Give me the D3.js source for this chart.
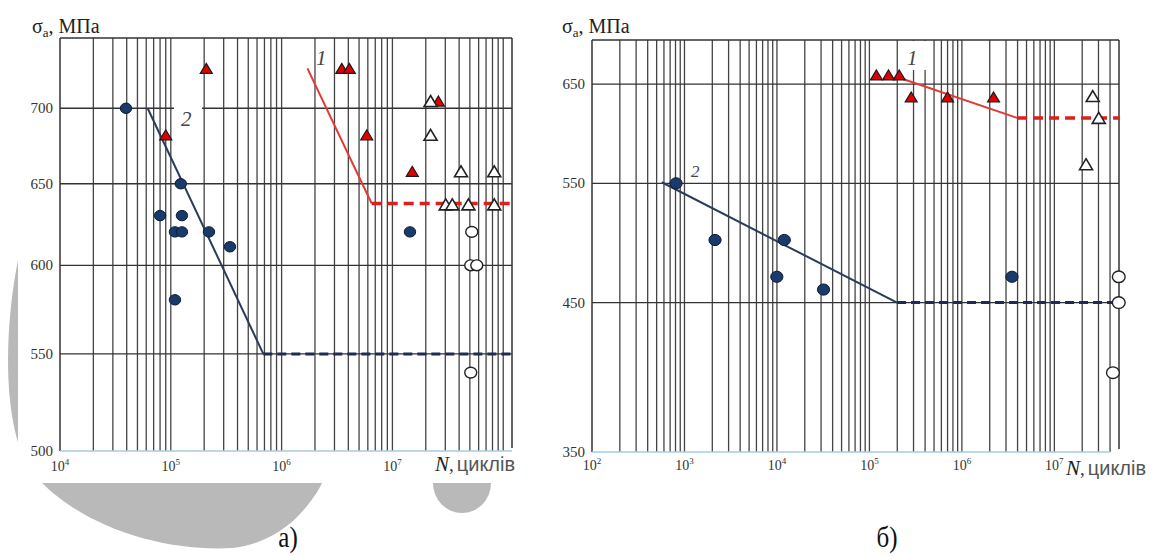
<!DOCTYPE html>
<html><head><meta charset="utf-8">
<script src="https://cdn.jsdelivr.net/npm/d3@7"></script>
<style>body{margin:0;background:#fff}svg{display:block}</style>
</head><body>
<svg id="c" width="1160" height="557"></svg>
<script>
// ---------------- DATA ----------------
// Panel а)
const aXDomain = [1e4, 1.2e8];
const aYDomain = [500, 750];
const aXTicks = [1e4, 1e5, 1e6, 1e7];
const aYTicks = [500, 550, 600, 650, 700];
const aBlueFilled = [[3.94e4,700],[1.23e5,650],[8.0e4,630],[1.26e5,630],[1.09e5,620],[1.26e5,620],[2.21e5,620],[3.42e5,611],[1.09e5,580],[1.44e7,620]];
const aRedTri = [[9.0e4,682],[2.09e5,728],[3.49e6,728],[4.08e6,728],[5.86e6,682],[1.51e7,658],[2.6e7,705]];
const aOpenTri = [[2.21e7,705],[2.21e7,682],[4.16e7,658],[8.3e7,658],[3.03e7,637],[3.47e7,637],[4.85e7,637],[8.3e7,637]];
const aOpenCirc = [[5.2e7,620],[5.09e7,600],[5.77e7,600],[5.09e7,540]];
const aLine2 = [[6.18e4,700],[6.84e5,550]];
const aLine2Dash = [[6.84e5,550],[1.25e8,550]];
const aLine1 = [[1.71e6,728],[6.5e6,637.5]];
const aLine1Dash = [[6.5e6,637.5],[1.22e8,637.5]];

// Panel б)
const bXDomain = [1e2, 5e7];
const bYDomain = [350, 700];
const bXTicks = [1e2, 1e3, 1e4, 1e5, 1e6, 1e7];
const bYTicks = [350, 450, 550, 650];
const bBlueFilled = [[811,550],[2.14e3,500],[1.2e4,500],[9.97e3,470],[3.19e4,460],[3.48e6,470]];
const bRedTri = [[1.19e5,660],[1.61e5,660],[2.1e5,660],[2.83e5,636],[7.0e5,636],[2.2e6,636]];
const bOpenTri = [[2.6e7,637],[3.02e7,614],[2.2e7,568]];
const bOpenCirc = [[4.97e7,470],[4.97e7,450],[4.3e7,400]];
const bLine2 = [[568,551],[1.99e5,450]];
const bLine2Dash = [[1.99e5,450],[4.97e7,450]];
const bLine1 = [[2.1e5,657],[3.95e6,614]];
const bLine1Dash = [[3.95e6,614],[5.1e7,614]];

// ---------------- DRAW ----------------
const svg = d3.select("#c");
const SERIF = "Liberation Serif, Times New Roman, serif";
const SANS = "Liberation Sans, Arial, sans-serif";

// background watermark shapes
svg.append("path")
  .attr("d","M18,260 C4,330 2,425 30,470 C75,525 160,552 232,548 C262,545 285,530 300,514 C310,503 318,492 322,483 L322,260 Z")
  .attr("fill","#b9b9b9");
svg.append("path").attr("d","M433,483 A29,30 0 0 0 491,483 Z").attr("fill","#b9b9b9");
svg.append("rect").attr("x",18).attr("y",0).attr("width",527).attr("height",483).attr("fill","#fff");

function triPath(w,h){return `M0,${-h/2}L${w/2},${h/2}L${-w/2},${h/2}Z`;}

function panel(cfg){
  const x = d3.scaleLog().domain(cfg.xDomain).range(cfg.xRange);
  const y = d3.scaleLog().domain(cfg.yDomain).range(cfg.yRange);
  const g = svg.append("g");
  const [x0,x1] = cfg.xRange, [yb,yt] = cfg.yRange;
  // vertical grid lines
  const vs = [];
  for(let k=Math.round(Math.log10(cfg.xDomain[0])); Math.pow(10,k) <= cfg.xDomain[1]; k++){
    for(let m=1;m<=9;m++){const v=m*Math.pow(10,k); if(v>cfg.xDomain[0] && v<cfg.xDomain[1]*0.999) vs.push(v);}
  }
  g.selectAll(".vg").data(vs).join("line")
    .attr("x1",d=>x(d)).attr("x2",d=>x(d)).attr("y1",yt).attr("y2",yb)
    .attr("stroke","#444").attr("stroke-width",1.3);
  // horizontal grid lines
  g.selectAll(".hg").data(cfg.yTicks.slice(1).concat([cfg.yDomain[1]])).join("line")
    .attr("x1",x0).attr("x2",x1).attr("y1",d=>y(d)).attr("y2",d=>y(d))
    .attr("stroke","#333").attr("stroke-width",1.3);
  // frame
  g.append("line").attr("x1",x0).attr("x2",x0).attr("y1",yt).attr("y2",yb).attr("stroke","#333").attr("stroke-width",1.5);
  g.append("line").attr("x1",x1).attr("x2",x1).attr("y1",yt).attr("y2",yb-3).attr("stroke","#333").attr("stroke-width",1.5);
  g.append("line").attr("x1",x0).attr("x2",cfg.axisEnd).attr("y1",yb).attr("y2",yb).attr("stroke","#a6cde2").attr("stroke-width",1.6);
  // label backgrounds
  (cfg.masks||[]).forEach(m=>g.append("rect").attr("x",m[0]).attr("y",m[1]).attr("width",m[2]).attr("height",m[3]).attr("fill","#fff"));
  // y tick labels
  g.selectAll(".yl").data(cfg.yTicks).join("text")
    .attr("x",x0-7).attr("y",d=>y(d)+5).attr("text-anchor","end")
    .attr("font-family",SERIF).attr("font-size",15).attr("fill","#333").text(d=>d);
  // x tick labels
  const xl = g.selectAll(".xl").data(cfg.xTicks).join("text")
    .attr("x",d=>x(d)+cfg.xLabDx).attr("y",cfg.xLabY).attr("text-anchor","middle")
    .attr("font-family",SERIF).attr("font-size",14).attr("fill","#333");
  xl.append("tspan").text("10");
  xl.append("tspan").attr("dy",-6).attr("font-size",9).text(d=>Math.round(Math.log10(d)));
  // y title
  const yt1 = g.append("text").attr("x",cfg.yTitle[0]).attr("y",cfg.yTitle[1])
    .attr("font-family",SERIF).attr("font-size",20).attr("fill","#222");
  yt1.append("tspan").text("σ");
  yt1.append("tspan").attr("font-size",13).attr("dy",4).text("a");
  yt1.append("tspan").attr("dy",-4).text(", МПа");
  // x title
  const xt = g.append("text").attr("x",cfg.xTitle[0]).attr("y",cfg.xTitle[1]).attr("fill","#333");
  xt.append("tspan").attr("font-family",SERIF).attr("font-style","italic").attr("font-size",21).attr("fill","#222").text("N");
  xt.append("tspan").attr("font-family",SERIF).attr("font-size",19).text(",");
  xt.append("tspan").attr("font-family",SANS).attr("font-size",20).attr("fill","#555").attr("dx",3).text("циклів");

  const line = d3.line().x(d=>x(d[0])).y(d=>y(d[1]));
  // lines
  g.append("path").attr("d",line(cfg.line2)).attr("fill","none").attr("stroke","#2b3c5a").attr("stroke-width",2);
  g.append("path").attr("d",line(cfg.line2Dash)).attr("fill","none").attr("stroke","#1e2c55").attr("stroke-width",3).attr("stroke-dasharray","9,5");
  g.append("path").attr("d",line(cfg.line1)).attr("fill","none").attr("stroke","#e23a36").attr("stroke-width",2);
  g.append("path").attr("d",line(cfg.line1Dash)).attr("fill","none").attr("stroke","#e01e1e").attr("stroke-width",3.5).attr("stroke-dasharray","10,6");

  // markers
  g.selectAll(".bf").data(cfg.blue).join("ellipse")
    .attr("cx",d=>x(d[0])).attr("cy",d=>y(d[1])).attr("rx",cfg.r+0.5).attr("ry",cfg.r)
    .attr("fill","#1b3a6c").attr("stroke","#0b1a33").attr("stroke-width",1);
  g.selectAll(".oc").data(cfg.openCirc).join("ellipse")
    .attr("cx",d=>x(d[0])).attr("cy",d=>y(d[1])).attr("rx",cfg.r+0.8).attr("ry",cfg.r+0.2)
    .attr("fill","#fff").attr("stroke","#222").attr("stroke-width",1.4);
  g.selectAll(".rt").data(cfg.redTri).join("path")
    .attr("transform",d=>`translate(${x(d[0])},${y(d[1])})`).attr("d",triPath(12,10))
    .attr("fill","#e10000").attr("stroke","#1a1a1a").attr("stroke-width",1.2);
  g.selectAll(".ot").data(cfg.openTri).join("path")
    .attr("transform",d=>`translate(${x(d[0])},${y(d[1])})`).attr("d",triPath(13,11))
    .attr("fill","#fff").attr("stroke","#222").attr("stroke-width",1.6);

  // curve labels
  cfg.labels.forEach(l=>g.append("text").attr("x",l[1]).attr("y",l[2])
    .attr("font-family",SERIF).attr("font-style","italic").attr("font-size",l[3]).attr("fill","#444").text(l[0]));
  // panel letter
  g.append("text").attr("transform",`translate(${cfg.letter[1]},${cfg.letter[2]}) scale(1,1.15)`)
    .attr("text-anchor","middle").attr("font-family",SERIF).attr("font-size",25).attr("fill","#111").text(cfg.letter[0]);
}

panel({
  xDomain:aXDomain, yDomain:aYDomain, xRange:[60,512], yRange:[451,38],
  xTicks:aXTicks, yTicks:aYTicks, axisEnd:512, xLabY:471, xLabDx:0,
  yTitle:[32,33], xTitle:[435,471],
  blue:aBlueFilled, redTri:aRedTri, openTri:aOpenTri, openCirc:aOpenCirc, r:5.2,
  line2:aLine2, line2Dash:aLine2Dash, line1:aLine1, line1Dash:aLine1Dash,
  masks:[[174,103,28,30]],
  labels:[["2",181,126,21],["1",316,65,21]],
  letter:["а)",288,547]
});
panel({
  xDomain:bXDomain, yDomain:bYDomain, xRange:[592,1119], yRange:[452,40],
  xTicks:bXTicks, yTicks:bYTicks, axisEnd:1110, xLabY:470, xLabDx:0,
  yTitle:[562,33], xTitle:[1066,475],
  blue:bBlueFilled, redTri:bRedTri, openTri:bOpenTri, openCirc:bOpenCirc, r:5.6,
  line2:bLine2, line2Dash:bLine2Dash, line1:bLine1, line1Dash:bLine1Dash,
  masks:[[900,41,27,29]],
  labels:[["2",691,177,17],["1",907,65,21]],
  letter:["б)",887,547]
});
</script>
</body></html>
